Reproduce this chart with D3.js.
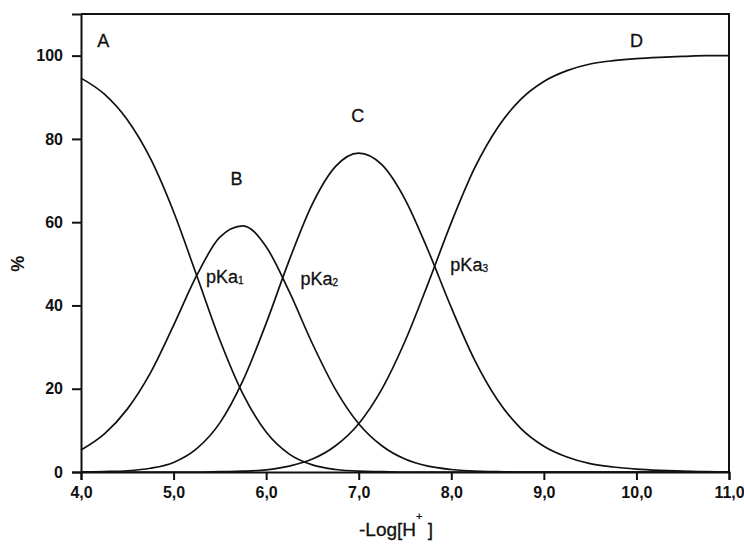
<!DOCTYPE html>
<html>
<head>
<meta charset="utf-8">
<style>
  body { margin: 0; background: #fff; }
  svg { font-family: "Liberation Sans", Arial, sans-serif; }
  .tick-label { font-size: 16px; font-weight: bold; fill: #111; }
  .curve { fill: none; stroke: #111; stroke-width: 1.7; }
  .species { font-size: 18px; fill: #111; stroke: #111; stroke-width: 0.3; }
</style>
</head>
<body>
<div id="chart"></div>
<script src="https://d3js.org/d3.v7.min.js"></script>
<script>
  // distribution of the four species against -log[H+]
  const pH = [4.0, 4.25, 4.5, 4.75, 5.0, 5.25, 5.5, 5.75, 6.0, 6.25, 6.5, 6.75, 7.0, 7.25,
    7.5, 7.75, 8.0, 8.25, 8.5, 8.75, 9.0, 9.25, 9.5, 9.75, 10.0, 10.25, 10.5, 10.75, 11.0];
  const speciesA = [94.6, 90.8, 84.6, 75.3, 62.5, 47.2, 31.7, 18.7, 9.6, 4.3, 1.7, 0.6, 0.2, 0.1,
    0, 0, 0, 0, 0, 0, 0, 0, 0, 0, 0, 0, 0, 0, 0];
  const speciesB = [5.3, 9.1, 15.1, 23.8, 35.2, 47.2, 56.4, 59.1, 54.1, 43.3, 30.8, 19.8, 11.6, 6.3,
    3.1, 1.4, 0.6, 0.2, 0.1, 0, 0, 0, 0, 0, 0, 0, 0, 0, 0];
  const speciesC = [0, 0.1, 0.3, 0.9, 2.3, 5.6, 11.8, 22.0, 35.7, 50.9, 64.4, 73.4, 76.6, 73.8,
    65.5, 53.2, 39.5, 27.0, 17.3, 10.5, 6.2, 3.6, 2.0, 1.2, 0.7, 0.4, 0.2, 0.1, 0];
  const speciesD = [0, 0, 0, 0, 0, 0, 0.1, 0.2, 0.5, 1.4, 3.1, 6.3, 11.6, 19.9,
    31.4, 45.3, 59.9, 72.9, 82.7, 89.5, 93.8, 96.4, 98.0, 98.8, 99.3, 99.6, 99.8, 100, 100];
  const seriesNames = ['A', 'B', 'C', 'D'];
  const xTicks = [4, 5, 6, 7, 8, 9, 10, 11];
  const yTicks = [0, 20, 40, 60, 80, 100];

  const width = 744;
  const height = 544;
  const margin = { top: 14, right: 15, bottom: 72, left: 81 };

  const svg = d3.select('#chart')
    .append('svg')
    .attr('width', width)
    .attr('height', height);

  const x = d3.scaleLinear()
    .domain([4, 11])
    .range([margin.left, width - margin.right]);

  const y = d3.scaleLinear()
    .domain([0, 110])
    .range([height - margin.bottom, margin.top]);

  // curves
  const line = d3.line()
    .x((d, i) => x(pH[i]))
    .y(d => y(d))
    .curve(d3.curveMonotoneX);

  [speciesA, speciesB, speciesC, speciesD].forEach(values => {
    svg.append('path')
      .attr('class', 'curve')
      .attr('d', line(values));
  });

  // frame on top and right
  svg.append('path')
    .attr('d', `M${x(4)},${y(110)}H${x(11)}V${y(0)}`)
    .attr('fill', 'none')
    .attr('stroke', '#111')
    .attr('stroke-width', 2);

  // x axis with minor ticks
  const xAxis = svg.append('g')
    .attr('transform', `translate(0, ${y(0)})`);
  xAxis.call(d3.axisBottom(x).tickValues(d3.range(4.5, 11, 1)).tickSize(6).tickFormat(''));
  xAxis.call(d3.axisBottom(x).tickValues(xTicks).tickSize(8).tickPadding(7)
    .tickFormat(d => d3.format('.1f')(d).replace('.', ',')));

  // y axis with minor ticks
  const yAxis = svg.append('g')
    .attr('transform', `translate(${x(4)}, 0)`);
  yAxis.call(d3.axisLeft(y).tickValues(d3.range(10, 110, 20)).tickSize(6).tickFormat(''));
  yAxis.call(d3.axisLeft(y).tickValues(yTicks).tickSize(9).tickPadding(9));

  svg.selectAll('.domain').attr('stroke', '#111').attr('stroke-width', 2);
  svg.selectAll('.tick line').attr('stroke', '#111').attr('stroke-width', 2);
  svg.selectAll('.tick text').attr('class', 'tick-label').attr('font-family', null).attr('font-size', null);

  // species letters
  const letterPos = [[4.24, 102], [5.68, 69], [6.99, 84], [10.0, 102]];
  seriesNames.forEach((name, i) => {
    svg.append('text')
      .attr('class', 'species')
      .attr('x', x(letterPos[i][0]))
      .attr('y', y(letterPos[i][1]))
      .attr('text-anchor', 'middle')
      .text(name);
  });

  // pKa markers beside the crossings
  const pkaPos = [[5.35, 45.3], [6.37, 45.0], [7.99, 48.3]];
  pkaPos.forEach((p, i) => {
    const t = svg.append('text')
      .attr('class', 'species')
      .attr('x', x(p[0]))
      .attr('y', y(p[1]));
    t.append('tspan').text('pKa');
    t.append('tspan').attr('font-size', 10).attr('dy', 1).text(i + 1);
  });

  // axis titles
  const title = svg.append('text')
    .attr('x', 396)
    .attr('y', 536)
    .attr('text-anchor', 'middle')
    .attr('font-size', 19)
    .attr('fill', '#111')
    .attr('stroke', '#111')
    .attr('stroke-width', 0.3);
  title.append('tspan').text('-Log[H');
  title.append('tspan').attr('font-size', 11).attr('dy', -16).text('+');
  title.append('tspan').attr('dy', 16).text(' ]');

  svg.append('text')
    .attr('transform', `translate(24, ${y(50)}) rotate(-90)`)
    .attr('text-anchor', 'middle')
    .attr('font-size', 18)
    .attr('font-weight', 'bold')
    .attr('fill', '#111')
    .text('%');
</script>
</body>
</html>
